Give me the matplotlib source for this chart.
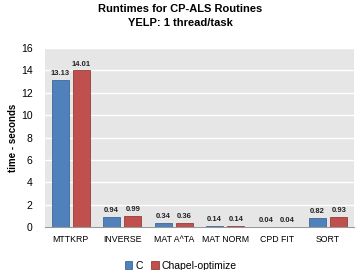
import numpy as np
import matplotlib.pyplot as plt

plt.rcParams['font.family'] = ['Liberation Sans', 'DejaVu Sans']

categorias = ['MTTKRP', 'INVERSE', 'MAT A^TA', 'MAT NORM', 'CPD FIT', 'SORT']
c_vals = [13.13, 0.94, 0.34, 0.14, 0.04, 0.82]
chapel_vals = [14.01, 0.99, 0.36, 0.14, 0.04, 0.93]

fig = plt.figure(figsize=(3.6, 2.7), dpi=100)
ax = fig.add_axes([0.125, 0.159, 0.858, 0.663])
ax.set_facecolor('#e6e6e6')

x = np.arange(len(categorias))
w = 0.33
b1 = ax.bar(x - w/2 - 0.04, c_vals, w, color='#4f81bd', edgecolor='#3c6896', linewidth=0.6, label='C', zorder=3)
b2 = ax.bar(x + w/2 + 0.04, chapel_vals, w, color='#c0504d', edgecolor='#963d3a', linewidth=0.6, label='Chapel-optimize', zorder=3)

# etiquetas de valor encima de cada barra
for barras, vals in [(b1, c_vals), (b2, chapel_vals)]:
    for b, v in zip(barras, vals):
        ax.text(b.get_x() + b.get_width()/2, v + 0.25, '%.2f' % v, ha='center', va='bottom',
                fontsize=5.5, fontweight='bold', color='#222222')

ax.set_ylim(0, 16)
ax.set_yticks(range(0, 17, 2))
ax.set_xlim(-0.5, len(categorias) - 0.5)
ax.set_xticks(x)
ax.set_xticklabels(categorias, fontsize=6.3)
ax.tick_params(axis='y', labelsize=7.5, length=0, pad=9)
ax.tick_params(axis='x', length=0, pad=6)
ax.grid(axis='y', color='white', linewidth=1, zorder=0)
for s in ['top', 'right', 'left']:
    ax.spines[s].set_visible(False)
ax.spines['bottom'].set_color('#999999')
ax.spines['bottom'].set_zorder(4)

ax.set_ylabel('time - seconds', fontsize=7, fontweight='bold', labelpad=2)
fig.text(0.5, 0.985, 'Runtimes for CP-ALS Routines\nYELP: 1 thread/task', ha='center', va='top',
         fontsize=8, fontweight='bold', linespacing=1.45)
ax.legend(loc='center', bbox_to_anchor=(0.44, -0.215), ncol=2, frameon=False, fontsize=7.5,
          handlelength=0.7, handleheight=0.7, handletextpad=0.3, columnspacing=0.8)

fig.savefig('out.png', dpi=100)
